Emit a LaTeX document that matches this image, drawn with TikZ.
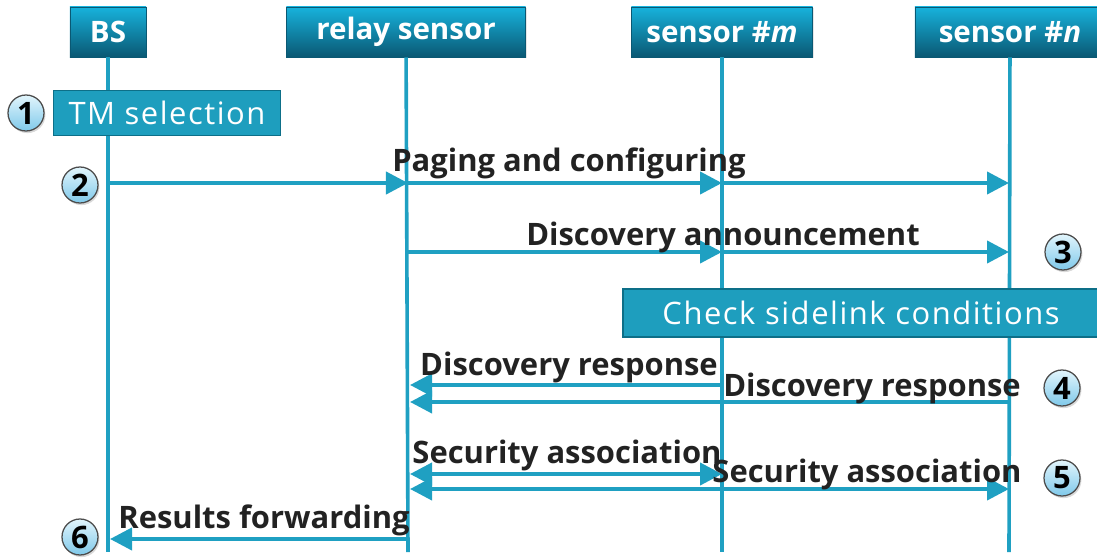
\documentclass[tikz,border=0pt]{standalone}
\usepackage{fontspec}
\setmainfont{Open Sans}
\newfontfamily\boxfont[LetterSpace=5]{Open Sans}
\usetikzlibrary{arrows.meta,shadows}
\definecolor{seqblue}{HTML}{1FA0C2}
\definecolor{hdtop}{HTML}{17B2DC}
\definecolor{hdbot}{HTML}{0A5873}
\definecolor{boxfill}{HTML}{1E9EBE}
\definecolor{boxline}{HTML}{0D6F88}
\definecolor{numtop}{HTML}{E2F5FC}
\definecolor{numbot}{HTML}{7FC9EA}
\definecolor{txt}{HTML}{222222}
\begin{document}
\begin{tikzpicture}
  [x=0.025cm,y=-0.025cm,
   head/.style={rectangle,draw=hdbot,top color=hdtop,bottom color=hdbot,text=white,
     font=\fontsize{21}{24}\selectfont\bfseries,minimum height=1.25cm,
     drop shadow={opacity=0.2,shadow xshift=1pt,shadow yshift=-1pt}},
   task/.style={rectangle,draw=boxline,line width=1.2pt,fill=boxfill,text=white,
     font=\boxfont\fontsize{22}{26}\selectfont},
   num/.style={circle,draw=black!70,line width=0.9pt,top color=numtop,bottom color=numbot,
     minimum size=0.9cm,inner sep=0pt,font=\fontsize{22}{24}\selectfont\bfseries,
     drop shadow={opacity=0.3,shadow xshift=1pt,shadow yshift=-1.5pt}},
   life/.style={draw=seqblue,line width=0.09cm},
   msg/.style={draw=seqblue,line width=0.1cm,-{Triangle[length=0.55cm,width=0.55cm]}},
   twoway/.style={msg,{Triangle[length=0.55cm,width=0.55cm]}-{Triangle[length=0.55cm,width=0.55cm]}},
   lbl/.style={text=txt,font=\fontsize{22}{26}\selectfont\bfseries,inner sep=0pt,anchor=base}]
  \useasboundingbox (0,0) rectangle (1097,558);
  \clip (0,0) rectangle (1097,558);

  % participants
  \node[head,minimum width=1.9cm]  (bs) at (108,32)  {BS};
  \node[head,minimum width=5.98cm] (rs) at (406,32)  {relay sensor};
  \node[head,minimum width=4.53cm] (sm) at (722,32)  {sensor \#\textit{m}};
  \node[head,minimum width=4.75cm] (sn) at (1010,32) {sensor \#\textit{n}};

  \coordinate (bsend) at (108,552);
  \coordinate (rsend) at (408,552);
  \coordinate (smend) at (722,552);
  \coordinate (snend) at (1009,552);

  \draw[life] (bs) -- (bsend);
  \draw[life] (rs) -- (rsend);
  \draw[life] (sm) -- (smend);
  \draw[life] (sn) -- (snend);

  % steps on the lifelines
  \node[task,minimum width=5.68cm,minimum height=1.125cm] (tm) at (167,113) {TM selection};
  \node[task,minimum width=11.9cm,minimum height=1.2cm] (chk) at (861,313) {Check sidelink conditions};

  \coordinate (bs2) at (108,183);
  \coordinate (rs2) at (408,183);
  \coordinate (sm2) at (722,183);
  \coordinate (sn2) at (1009,183);
  \coordinate (rs3) at (408,252);
  \coordinate (sm3) at (722,252);
  \coordinate (sn3) at (1009,252);
  \coordinate (rs4a) at (410,385);
  \coordinate (sm4a) at (722,385);
  \coordinate (rs4b) at (410,402);
  \coordinate (sn4b) at (1009,402);
  \coordinate (rs5a) at (410,474);
  \coordinate (sm5a) at (722,474);
  \coordinate (rs5b) at (410,489);
  \coordinate (sn5b) at (1009,489);
  \coordinate (rs6) at (408,539);
  \coordinate (bs6) at (110,539);

  % messages
  \draw[msg] (bs2) -- (rs2);
  \draw[msg] (rs2) -- (sm2);
  \draw[msg] (sm2) -- (sn2);
  \draw[msg] (rs3) -- (sm3);
  \draw[msg] (sm3) -- (sn3);
  \draw[msg] (sm4a) -- (rs4a);
  \draw[msg] (sn4b) -- (rs4b);
  \draw[twoway] (rs5a) -- (sm5a);
  \draw[twoway] (rs5b) -- (sn5b);
  \draw[msg] (rs6) -- (bs6);

  \node[lbl] (page) at (569,171) {Paging and configuring};
  \node[lbl] (ann)  at (723,245) {Discovery announcement};
  \node[lbl] (rsp1) at (569,375) {Discovery response};
  \node[lbl] (rsp2) at (872,396) {Discovery response};
  \node[lbl] (sec1) at (567,463) {Security association};
  \node[lbl] (sec2) at (867,482) {Security association};
  \node[lbl] (res)  at (264,528) {Results forwarding};

  % step numbers
  \node[num] (n1) at (26,113)  {1};
  \node[num] (n2) at (80,185)  {2};
  \node[num] (n3) at (1063,252) {3};
  \node[num] (n4) at (1062,388) {4};
  \node[num] (n5) at (1062,478) {5};
  \node[num] (n6) at (80,537)  {6};
\end{tikzpicture}
\end{document}
